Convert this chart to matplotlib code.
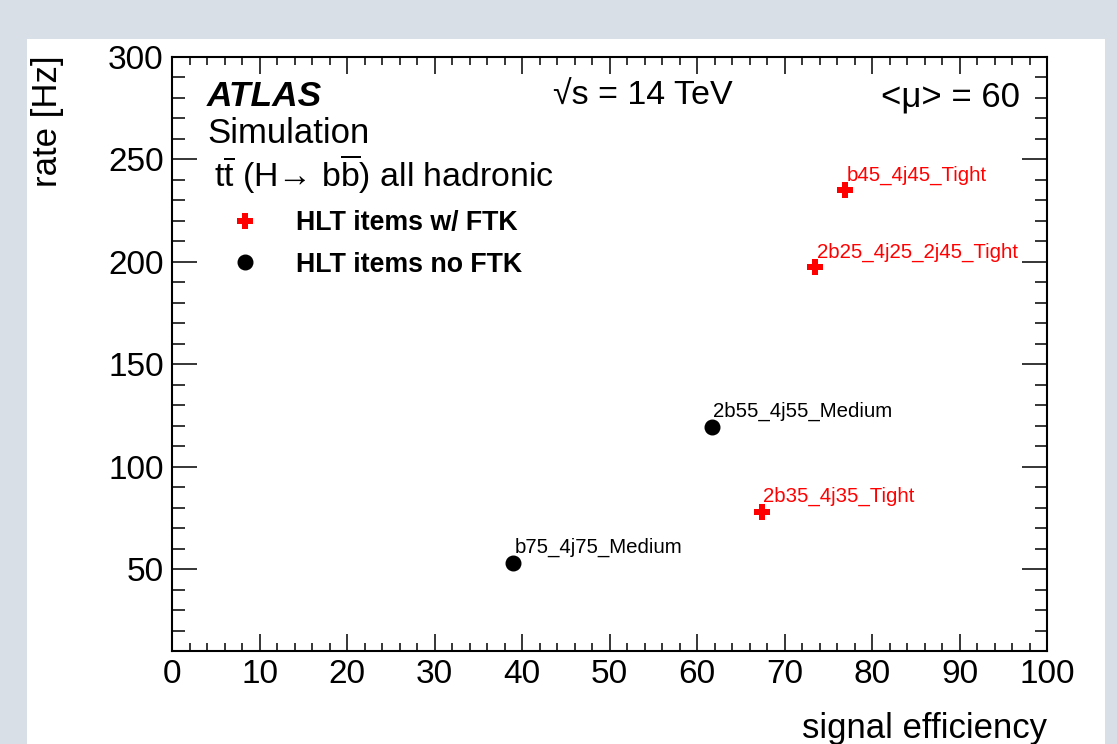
import matplotlib
matplotlib.use('Agg')
import matplotlib.pyplot as plt
from matplotlib.patches import Rectangle
from matplotlib.ticker import MultipleLocator

# trigger items with FTK (red crosses)
ftk_names = ['b45_4j45_Tight', '2b25_4j25_2j45_Tight', '2b35_4j35_Tight']
ftk_eff = [76.9, 73.5, 67.4]
ftk_rate = [235.0, 197.4, 78.1]

# trigger items without FTK (black dots)
noftk_names = ['2b55_4j55_Medium', 'b75_4j75_Medium']
noftk_eff = [61.7, 39.0]
noftk_rate = [119.6, 53.2]

plt.rcParams['font.family'] = ['Liberation Sans', 'DejaVu Sans']
plt.rcParams['mathtext.fontset'] = 'custom'
plt.rcParams['mathtext.rm'] = 'Liberation Sans'
plt.rcParams['mathtext.it'] = 'Liberation Sans:italic'

W, H = 1117, 744
fig = plt.figure(figsize=(W / 100, H / 100), dpi=100, facecolor='#d8dfe7')
# white canvas panel
fig.patches.append(Rectangle((27 / W, 0), (1105 - 27) / W, (H - 39) / H,
                             transform=fig.transFigure, facecolor='white',
                             edgecolor='none', zorder=-5))

ax = fig.add_axes([172 / W, (H - 651) / H, 875 / W, 594 / H], zorder=2)
ax.set_xlim(0, 100)
ax.set_ylim(10, 300)

ax.plot(ftk_eff, ftk_rate, linestyle='none', marker='P', markersize=11,
        color='red', markeredgewidth=0, label='HLT items w/ FTK')
ax.plot(noftk_eff, noftk_rate, linestyle='none', marker='o', markersize=10.5,
        color='black', label='HLT items no FTK')

for n, x, y in zip(ftk_names, ftk_eff, ftk_rate):
    ax.annotate(n, (x, y), xytext=(1, 4), textcoords='offset points',
                ha='left', va='bottom', color='red', fontsize=14.7)
for n, x, y in zip(noftk_names, noftk_eff, noftk_rate):
    ax.annotate(n, (x, y), xytext=(1, 4), textcoords='offset points',
                ha='left', va='bottom', color='black', fontsize=14.7)

# ROOT style ticks
ax.xaxis.set_major_locator(MultipleLocator(10))
ax.xaxis.set_minor_locator(MultipleLocator(2))
ax.yaxis.set_major_locator(MultipleLocator(50))
ax.yaxis.set_minor_locator(MultipleLocator(10))
ax.tick_params(which='both', direction='in', top=True, right=True,
               width=1.1, labelsize=24, pad=6)
ax.tick_params(axis='x', which='major', length=12)
ax.tick_params(axis='x', which='minor', length=6)
ax.tick_params(axis='y', which='major', length=18)
ax.tick_params(axis='y', which='minor', length=9)
for s in ax.spines.values():
    s.set_linewidth(1.5)

fig.text(47 / W, 1 - 55 / H, 'rate [Hz]', rotation=90, ha='center',
         va='top', fontsize=25)
fig.text(1047 / W, 1 - 738 / H, 'signal efficiency', ha='right',
         va='baseline', fontsize=25)

ax.text(0.04, 0.933, 'ATLAS', transform=ax.transAxes, fontsize=25.5,
        fontweight='bold', fontstyle='italic', va='center', ha='left')
ax.text(0.04, 0.871, 'Simulation', transform=ax.transAxes, fontsize=25,
        va='center', ha='left')
ax.text(0.048, 0.803,
        r'$\mathrm{t}\overline{\mathrm{t}}$ (H' + '\u2192' + r' b$\overline{\mathrm{b}}$) all hadronic',
        transform=ax.transAxes, fontsize=24.4, va='center', ha='left')
ax.text(0.435, 0.933, '\u221as = 14 TeV', transform=ax.transAxes,
        fontsize=24.5, va='center', ha='left')
ax.text(0.969, 0.933, '<\u03bc> = 60', transform=ax.transAxes, fontsize=25,
        va='center', ha='right')

ax.legend(loc='upper left', bbox_to_anchor=(0.033, 0.783), frameon=False,
          prop={'weight': 'bold', 'size': 19.3}, handlelength=1.5,
          handletextpad=1.15, labelspacing=0.58, numpoints=1)

fig.savefig('out.png', dpi=100, facecolor=fig.get_facecolor())
